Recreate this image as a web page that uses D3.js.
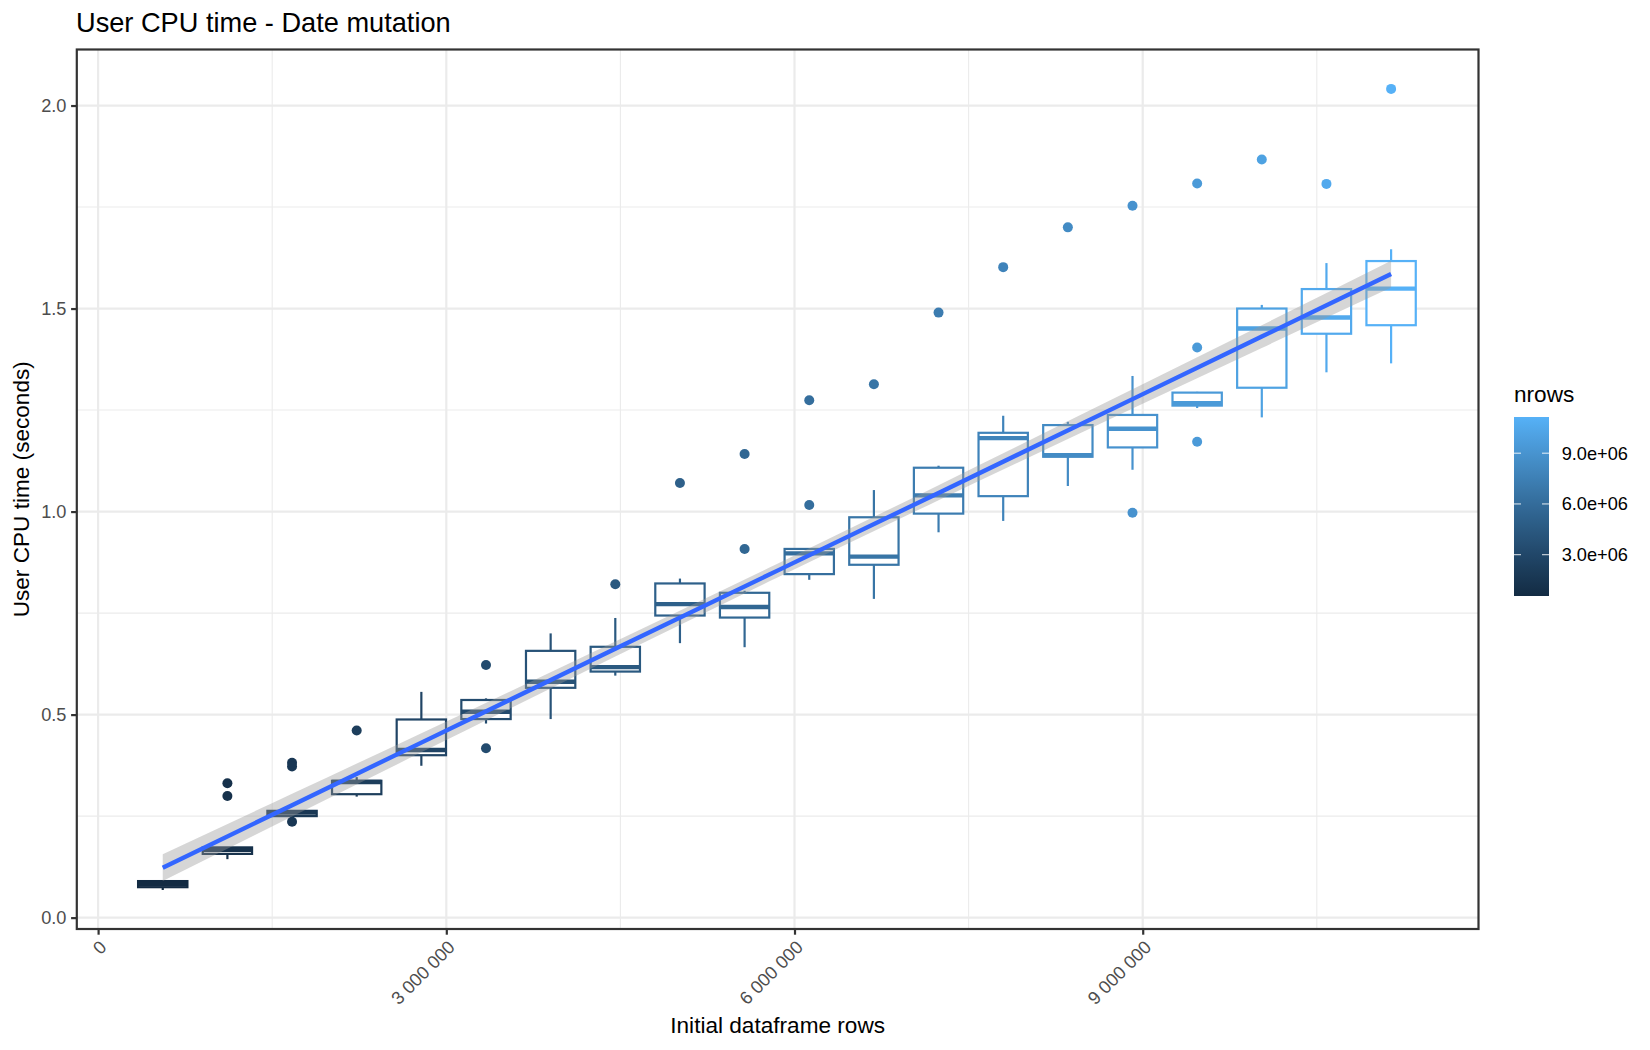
<!DOCTYPE html>
<html>
<head>
<meta charset="utf-8">
<script src="https://cdn.jsdelivr.net/npm/d3@7"></script>
<style>
    body { margin: 0; background: #ffffff; }
    text { font-family: "Liberation Sans", Arial, Helvetica, sans-serif; }
</style>
</head>
<body>
<svg id="chart" width="1650" height="1050"></svg>
<script>
/* ========================= DATA ======================== */
/* ======================================================= */

const nrows = [557000, 1114000, 1671000, 2228000, 2785000, 3342000, 3899000, 4456000, 5013000, 5570000,
               6127000, 6684000, 7241000, 7798000, 8355000, 8912000, 9469000, 10026000, 10583000, 11140000];

const whiskerLow  = [0.068, 0.144, 0.249, 0.298, 0.374, 0.478, 0.489, 0.596, 0.676, 0.666,
                     0.832, 0.785, 0.949, 0.977, 1.063, 1.103, 1.255, 1.232, 1.343, 1.365];
const q1          = [0.075, 0.157, 0.250, 0.304, 0.400, 0.489, 0.566, 0.606, 0.744, 0.739,
                     0.846, 0.869, 0.995, 1.038, 1.135, 1.158, 1.261, 1.305, 1.438, 1.459];
const median      = [0.083, 0.167, 0.259, 0.334, 0.413, 0.507, 0.581, 0.617, 0.772, 0.765,
                     0.897, 0.889, 1.040, 1.181, 1.139, 1.204, 1.267, 1.451, 1.478, 1.549];
const q3          = [0.090, 0.173, 0.263, 0.337, 0.488, 0.536, 0.657, 0.667, 0.823, 0.800,
                     0.908, 0.986, 1.108, 1.194, 1.213, 1.238, 1.293, 1.500, 1.548, 1.617];
const whiskerHigh = [0.091, 0.174, 0.264, 0.346, 0.556, 0.540, 0.700, 0.738, 0.835, 0.805,
                     0.910, 1.053, 1.113, 1.236, 1.221, 1.334, 1.295, 1.509, 1.612, 1.646];

// outliers: box index, seconds
const outlierBox   = [1, 1, 2, 2, 2, 3, 5, 5, 7, 8, 9, 9, 10, 10, 11, 12, 13, 14, 15, 15, 16, 16, 16, 17, 18, 19];
const outlierValue = [0.331, 0.2995, 0.3815, 0.372, 0.236, 0.461, 0.622, 0.417, 0.821, 1.0705, 1.142, 0.908,
                      1.274, 1.016, 1.3135, 1.490, 1.602, 1.700, 1.753, 0.997, 1.808, 1.404, 1.172, 1.867, 1.807, 2.041];

// lm smooth
const smoothRows = [557000, 1671000, 2785000, 4456000, 5848500, 7241000, 8912000, 10026000, 11140000];
const smoothFit  = [0.123, 0.277, 0.431, 0.662, 0.854, 1.046, 1.277, 1.431, 1.585];
const smoothLow  = [0.090, 0.249, 0.407, 0.643, 0.837, 1.028, 1.254, 1.403, 1.552];
const smoothHigh = [0.156, 0.305, 0.454, 0.680, 0.871, 1.065, 1.301, 1.459, 1.618];

const xTicks      = [0, 3000000, 6000000, 9000000];
const xMinorTicks = [1500000, 4500000, 7500000, 10500000];
const yTicks      = [0, 0.5, 1.0, 1.5, 2.0];
const yMinorTicks = [0.25, 0.75, 1.25, 1.75];
const legendTicks = [3000000, 6000000, 9000000];

/* ======================================================= */
/* ===================== END OF DATA ===================== */


const panel = { left: 76.8, right: 1478.5, top: 49.5, bottom: 929 };
const boxWidth = 425000;

const svg = d3.select("#chart");

const x = d3.scaleLinear()
            .domain([-183500, 11893000])
            .range([panel.left, panel.right]);
const y = d3.scaleLinear()
            .domain([-0.028, 2.138])
            .range([panel.bottom, panel.top]);
const colour = d3.scaleLinear()
                 .domain(d3.extent(nrows))
                 .range(["#132B43", "#56B1F7"])
                 .interpolate(d3.interpolateLab);

const spaceFormat = d3.formatLocale({ decimal: ".", thousands: " ", grouping: [3], currency: ["", ""] })
                      .format(",");

const boxes = nrows.map((n, i) => ({
    n: n, lo: whiskerLow[i], q1: q1[i], med: median[i], q3: q3[i], hi: whiskerHigh[i]
}));
const outliers = outlierBox.map((b, i) => ({ n: nrows[b], v: outlierValue[i] }));
const smooth = smoothRows.map((n, i) => ({ n: n, fit: smoothFit[i], lo: smoothLow[i], hi: smoothHigh[i] }));

/* =================== DRAW FUNCTIONS ==================== */
/* ======================================================= */

function drawGrid() {
    let grid = svg.append("g").attr("id", "grid");

    grid.selectAll("line.minorX")
        .data(xMinorTicks)
        .join("line")
        .attr("x1", d => x(d)).attr("x2", d => x(d))
        .attr("y1", panel.top).attr("y2", panel.bottom)
        .attr("stroke", "#ebebeb")
        .attr("stroke-width", 1.1);
    grid.selectAll("line.minorY")
        .data(yMinorTicks)
        .join("line")
        .attr("x1", panel.left).attr("x2", panel.right)
        .attr("y1", d => y(d)).attr("y2", d => y(d))
        .attr("stroke", "#ebebeb")
        .attr("stroke-width", 1.1);
    grid.selectAll("line.majorX")
        .data(xTicks)
        .join("line")
        .attr("x1", d => x(d)).attr("x2", d => x(d))
        .attr("y1", panel.top).attr("y2", panel.bottom)
        .attr("stroke", "#ebebeb")
        .attr("stroke-width", 2.2);
    grid.selectAll("line.majorY")
        .data(yTicks)
        .join("line")
        .attr("x1", panel.left).attr("x2", panel.right)
        .attr("y1", d => y(d)).attr("y2", d => y(d))
        .attr("stroke", "#ebebeb")
        .attr("stroke-width", 2.2);
}

function drawBoxes() {
    let half = (x(boxWidth) - x(0)) / 2;
    let g = svg.append("g").attr("id", "boxes");

    let box = g.selectAll("g.box")
               .data(boxes)
               .join("g")
               .attr("class", "box");

    box.append("line")
       .attr("x1", d => x(d.n)).attr("x2", d => x(d.n))
       .attr("y1", d => y(d.q3)).attr("y2", d => y(d.hi))
       .attr("stroke", d => colour(d.n))
       .attr("stroke-width", 2.2);
    box.append("line")
       .attr("x1", d => x(d.n)).attr("x2", d => x(d.n))
       .attr("y1", d => y(d.q1)).attr("y2", d => y(d.lo))
       .attr("stroke", d => colour(d.n))
       .attr("stroke-width", 2.2);
    box.append("rect")
       .attr("x", d => x(d.n) - half)
       .attr("y", d => y(d.q3))
       .attr("width", half * 2)
       .attr("height", d => y(d.q1) - y(d.q3))
       .attr("fill", "#ffffff")
       .attr("stroke", d => colour(d.n))
       .attr("stroke-width", 2.2);
    box.append("line")
       .attr("x1", d => x(d.n) - half).attr("x2", d => x(d.n) + half)
       .attr("y1", d => y(d.med)).attr("y2", d => y(d.med))
       .attr("stroke", d => colour(d.n))
       .attr("stroke-width", 4.4);

    g.selectAll("circle")
     .data(outliers)
     .join("circle")
     .attr("cx", d => x(d.n))
     .attr("cy", d => y(d.v))
     .attr("r", 5)
     .attr("fill", d => colour(d.n));
}

function drawSmooth() {
    let band = d3.area()
                 .x(d => x(d.n))
                 .y0(d => y(d.lo))
                 .y1(d => y(d.hi))
                 .curve(d3.curveMonotoneX);
    let line = d3.line()
                 .x(d => x(d.n))
                 .y(d => y(d.fit));

    svg.append("path")
       .datum(smooth)
       .attr("d", band)
       .attr("fill", "#999999")
       .attr("fill-opacity", 0.4);
    svg.append("path")
       .datum(smooth)
       .attr("d", line)
       .attr("fill", "none")
       .attr("stroke", "#3366ff")
       .attr("stroke-width", 4.4);
}

function drawAxes() {
    svg.append("rect")
       .attr("x", panel.left).attr("y", panel.top)
       .attr("width", panel.right - panel.left)
       .attr("height", panel.bottom - panel.top)
       .attr("fill", "none")
       .attr("stroke", "#333333")
       .attr("stroke-width", 2.2);

    let yAxis = svg.append("g")
                   .attr("transform", `translate(${panel.left},0)`)
                   .call(d3.axisLeft(y).tickValues(yTicks).tickFormat(d3.format(".1f"))
                                       .tickSize(5.7).tickPadding(4.6).tickSizeOuter(0));
    let xAxis = svg.append("g")
                   .attr("transform", `translate(0,${panel.bottom})`)
                   .call(d3.axisBottom(x).tickValues(xTicks).tickFormat(spaceFormat)
                                         .tickSize(5.7).tickSizeOuter(0));

    [yAxis, xAxis].forEach(a => {
        a.select(".domain").remove();
        a.selectAll(".tick line").attr("stroke", "#333333").attr("stroke-width", 2.2);
        a.selectAll(".tick text")
         .attr("fill", "#4d4d4d")
         .style("font-size", "18.2px");
    });

    xAxis.selectAll(".tick text")
         .attr("x", 0)
         .attr("y", 0)
         .attr("dy", "0.71em")
         .attr("transform", "translate(0,10.3) rotate(-45)")
         .style("text-anchor", "end");

    svg.append("text")
       .attr("x", (panel.left + panel.right) / 2)
       .attr("y", 1032.7)
       .attr("text-anchor", "middle")
       .style("font-size", "22.6px")
       .text("Initial dataframe rows");

    svg.append("text")
       .attr("transform", `translate(28.7,${(panel.top + panel.bottom) / 2}) rotate(-90)`)
       .attr("text-anchor", "middle")
       .style("font-size", "22.6px")
       .text("User CPU time (seconds)");

    svg.append("text")
       .attr("x", 76)
       .attr("y", 32.3)
       .style("font-size", "27.2px")
       .text("User CPU time - Date mutation");
}

function drawLegend() {
    let bar = { left: 1514, width: 35, top: 417, bottom: 596 };
    let legendY = d3.scaleLinear()
                    .domain(d3.extent(nrows))
                    .range([bar.bottom, bar.top]);

    let grad = svg.append("defs")
                  .append("linearGradient")
                  .attr("id", "nrowsGrad")
                  .attr("x1", 0).attr("y1", 1)
                  .attr("x2", 0).attr("y2", 0);
    grad.selectAll("stop")
        .data(d3.range(0, 1.0001, 0.05))
        .join("stop")
        .attr("offset", d => d)
        .attr("stop-color", d => colour(colour.domain()[0] + d * (colour.domain()[1] - colour.domain()[0])));

    svg.append("text")
       .attr("x", 1514)
       .attr("y", 401.7)
       .style("font-size", "22.6px")
       .text("nrows");

    svg.append("rect")
       .attr("x", bar.left).attr("y", bar.top)
       .attr("width", bar.width)
       .attr("height", bar.bottom - bar.top)
       .attr("fill", "url(#nrowsGrad)");

    let ticks = svg.append("g");
    ticks.selectAll("line.l")
         .data(legendTicks)
         .join("line")
         .attr("x1", bar.left).attr("x2", bar.left + 7)
         .attr("y1", d => legendY(d)).attr("y2", d => legendY(d))
         .attr("stroke", "#ffffff").attr("stroke-opacity", 0.8).attr("stroke-width", 1.1);
    ticks.selectAll("line.r")
         .data(legendTicks)
         .join("line")
         .attr("x1", bar.left + bar.width - 7).attr("x2", bar.left + bar.width)
         .attr("y1", d => legendY(d)).attr("y2", d => legendY(d))
         .attr("stroke", "#ffffff").attr("stroke-opacity", 0.8).attr("stroke-width", 1.1);
    ticks.selectAll("text")
         .data(legendTicks)
         .join("text")
         .attr("x", 1561.7)
         .attr("y", d => legendY(d))
         .attr("dy", "0.35em")
         .style("font-size", "18.2px")
         .text(d => d3.format(".1e")(d).replace("e+", "e+0"));
}

/* ======================================================= */
/* ================= END OF DRAW FUNCTIONS =============== */

drawGrid();
drawBoxes();
drawSmooth();
drawAxes();
drawLegend();
</script>
</body>
</html>
